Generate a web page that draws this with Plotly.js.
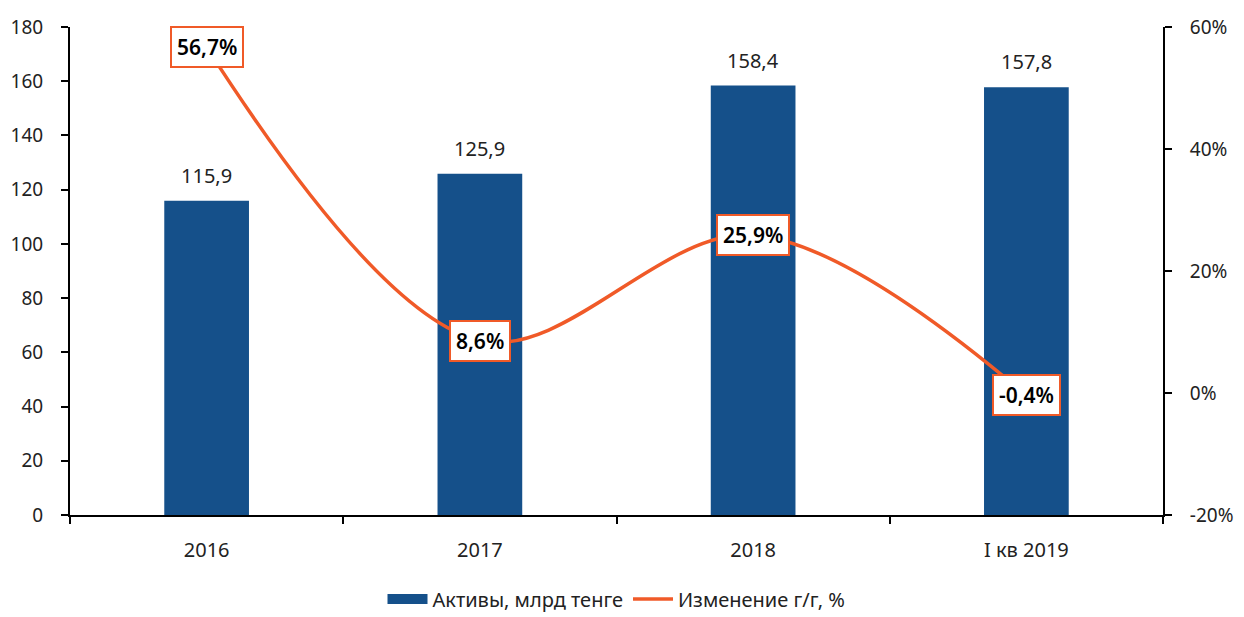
<!DOCTYPE html>
<html><head><meta charset="utf-8">
<script src="https://cdn.plot.ly/plotly-3.0.1.min.js"></script>
<style>html,body{margin:0;padding:0;background:#fff}#chart{width:1244px;height:617px}</style>
</head><body><div id="chart"></div>
<script>
const categories = ['2016', '2017', '2018', 'I кв 2019'];
const assets = [115.9, 125.9, 158.4, 157.8];
const changePct = [56.7, 8.6, 25.9, -0.4];
const leftTicks = [0, 20, 40, 60, 80, 100, 120, 140, 160, 180];
const rightTickVals = [-20, 0, 20, 40, 60];
const rightTickText = ['-20%', '0%', '20%', '40%', '60%'];
const seriesNames = ['Активы, млрд тенге', 'Изменение г/г, %'];

const fmt = v => v.toFixed(1).replace('.', ',');
const FONT = '"Noto Sans", "Open Sans", sans-serif';
const ORANGE = '#F05A28';
const BLUE = '#15508A';
const TXT = '#222';

const traces = [
  {
    type: 'bar', x: categories, y: assets, name: seriesNames[0],
    marker: {color: BLUE}, showlegend: false, legendgroup: 'a',
    hoverinfo: 'none'
  },
  {
    type: 'scatter', mode: 'lines', x: [null], y: [null], name: seriesNames[0],
    legendgroup: 'a', line: {color: BLUE, width: 14}, hoverinfo: 'none'
  },
  {
    type: 'scatter', mode: 'lines', x: categories, y: changePct, name: seriesNames[1],
    yaxis: 'y2', line: {color: ORANGE, width: 3.5, shape: 'spline', smoothing: 1},
    hoverinfo: 'none'
  }
];

const barLabels = assets.map((v, i) => ({
  x: i, y: v, xref: 'x', yref: 'y', yanchor: 'bottom', yshift: 10,
  text: fmt(v), showarrow: false,
  font: {size: 20, color: TXT, family: FONT}
}));

const pctLabels = changePct.map((v, i) => ({
  x: i, y: v, xref: 'x', yref: 'y2',
  text: fmt(v) + '%', showarrow: false,
  font: {size: 21, color: '#000', family: FONT, weight: 600},
  bgcolor: '#fff', bordercolor: ORANGE, borderwidth: 2, borderpad: 5
}));

const tickCommon = {
  showline: true, linecolor: '#000', linewidth: 2,
  ticks: 'outside', ticklen: 7, tickwidth: 2, tickcolor: '#000',
  showgrid: false, zeroline: false
};

const layout = {
  width: 1244, height: 617,
  margin: {l: 70, r: 81, t: 27, b: 102, autoexpand: false},
  paper_bgcolor: '#fff', plot_bgcolor: '#fff',
  font: {family: FONT, size: 19, color: TXT},
  bargap: 0.69,
  showlegend: true,
  legend: {orientation: 'h', x: 0.5, xanchor: 'center', y: -0.172, yanchor: 'middle',
           font: {size: 20, color: TXT}, traceorder: 'normal', itemwidth: 40},
  xaxis: Object.assign({}, tickCommon, {
    type: 'category', range: [-0.5, 3.5], autorange: false,
    tickson: 'boundaries', ticklabelstandoff: 16,
    tickfont: {size: 20, color: TXT}
  }),
  yaxis: Object.assign({}, tickCommon, {
    range: [0, 180], autorange: false, tickvals: leftTicks,
    ticklabelstandoff: 14, tickfont: {size: 19, color: TXT}
  }),
  yaxis2: Object.assign({}, tickCommon, {
    overlaying: 'y', side: 'right', range: [-20, 60], autorange: false,
    tickvals: rightTickVals, ticktext: rightTickText,
    ticklabelstandoff: 14, tickfont: {size: 19, color: TXT}
  }),
  annotations: barLabels.concat(pctLabels)
};

Plotly.newPlot('chart', traces, layout, {displayModeBar: false, staticPlot: true});
</script></body></html>
